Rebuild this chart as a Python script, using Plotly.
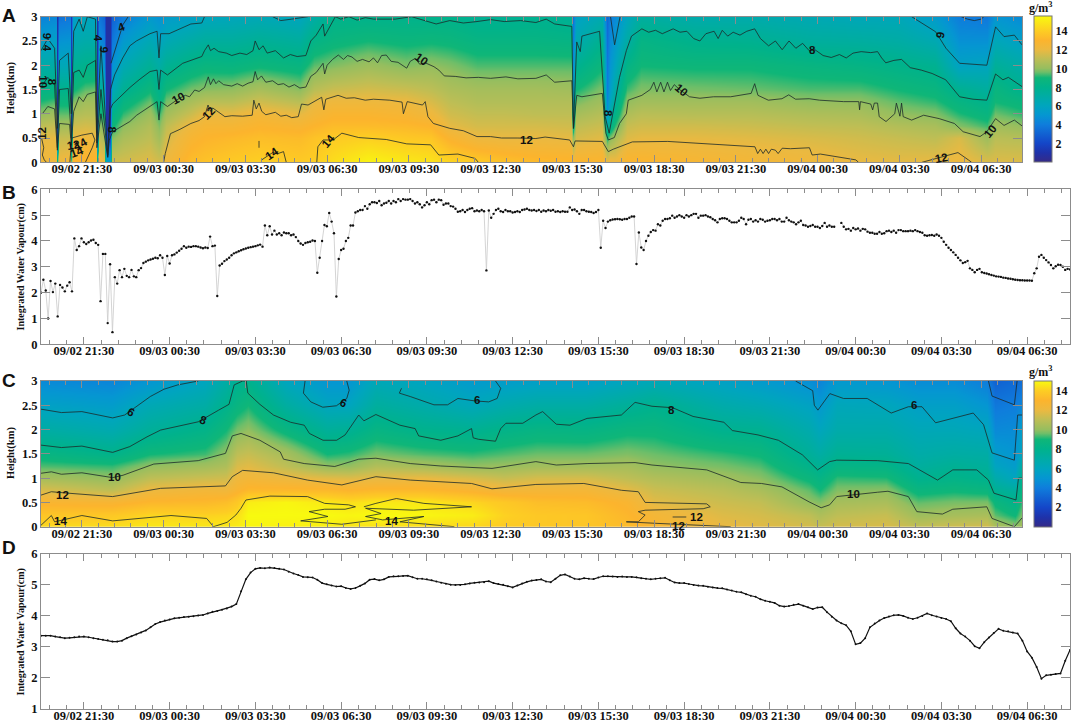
import plotly.graph_objects as go

W, H = 1072, 723
TICK_HOURS = [1.5, 4.5, 7.5, 10.5, 13.5, 16.5, 19.5, 22.5, 25.5, 28.5, 31.5, 34.5]
TICK_LABELS = ["09/02 21:30", "09/03 00:30", "09/03 03:30", "09/03 06:30", "09/03 09:30", "09/03 12:30",
               "09/03 15:30", "09/03 18:30", "09/03 21:30", "09/04 00:30", "09/04 03:30", "09/04 06:30"]

# ---------- Panel B: integrated water vapour, one value every 5 minutes
iwv_b = [
 2.0,2.5,2.08,1.0,2.45,2.02,2.35,1.08,2.3,2.2,2.05,2.27,
 2.4,2.05,4.1,3.65,3.8,4.1,3.95,3.88,3.95,4.02,4.05,3.92,
 3.85,1.67,3.5,3.5,.82,3.1,.47,2.6,2.35,2.87,2.6,2.92,
 2.65,2.6,2.88,2.63,2.6,2.87,2.95,3.15,3.2,3.25,3.28,3.31,
 3.35,3.33,3.45,3.35,2.68,3.42,3.13,3.45,3.48,3.55,3.62,3.7,
 3.8,3.74,3.78,3.77,3.8,3.8,3.78,3.75,3.72,3.75,3.73,4.17,
 3.8,3.82,1.87,3.05,3.12,3.22,3.28,3.35,3.45,3.52,3.56,3.6,
 3.64,3.68,3.71,3.74,3.76,3.78,3.8,3.83,3.86,3.78,4.6,4.22,
 4.57,4.25,4.4,4.25,4.3,4.22,4.33,4.3,4.3,4.22,4.25,4.15,
 4.0,3.9,3.85,3.92,3.95,3.97,4.02,4.0,2.77,3.35,4.0,4.62,
 4.57,5.08,4.75,4.3,1.85,3.3,3.65,3.7,4.0,4.12,4.6,4.6,
 5.1,5.15,5.2,5.2,5.35,5.25,5.42,5.5,5.5,5.47,5.55,5.38,
 5.45,5.48,5.55,5.45,5.55,5.5,5.62,5.55,5.62,5.6,5.6,5.62,
 5.55,5.45,5.5,5.42,5.3,5.38,5.5,5.42,5.58,5.6,5.5,5.6,
 5.58,5.4,5.45,5.45,5.35,5.33,5.25,5.13,5.15,5.2,5.12,5.2,
 5.25,5.27,5.15,5.18,5.15,5.2,5.15,2.86,5.18,4.9,5.05,5.2,
 5.25,5.15,5.12,5.2,5.15,5.15,5.1,5.12,5.15,5.12,5.2,5.22,
 5.25,5.2,5.18,5.2,5.16,5.2,5.13,5.18,5.15,5.2,5.17,5.2,
 5.13,5.15,5.12,5.15,5.13,5.13,5.3,5.2,5.22,5.15,5.05,5.2,
 5.2,5.15,5.13,5.12,5.08,5.12,5.2,3.74,4.78,4.5,4.75,4.8,
 4.83,4.84,4.85,4.84,4.82,4.85,4.85,4.9,4.95,4.95,3.11,4.33,
 3.75,3.65,4.0,4.2,4.35,4.42,4.4,4.65,4.6,4.78,4.85,4.85,
 4.88,4.98,4.9,4.95,5.0,4.95,4.9,5.0,4.95,5.0,5.05,5.05,
 4.9,4.98,4.98,5.0,4.95,4.92,4.85,4.8,4.72,4.85,4.88,4.88,
 4.85,4.78,4.72,4.72,4.72,4.78,4.9,4.85,4.65,4.82,4.85,4.75,
 4.8,4.75,4.85,4.82,4.75,4.78,4.8,4.85,4.85,4.8,4.85,4.75,
 4.75,4.9,4.8,4.75,4.72,4.65,4.72,4.78,4.62,4.6,4.55,4.58,
 4.62,4.55,4.55,4.5,4.58,4.7,4.55,4.6,4.55,4.55,None,None,
 4.7,4.55,4.45,4.47,4.4,4.5,4.45,4.48,4.4,4.47,4.45,4.36,
 4.32,4.32,4.28,4.28,4.35,4.28,4.3,4.38,4.4,4.35,4.4,4.32,
 4.42,4.42,4.38,4.38,4.38,4.4,4.38,4.42,4.38,4.35,4.32,4.22,
 4.2,4.22,4.23,4.2,4.25,4.2,4.12,3.97,3.85,3.74,3.65,3.56,
 3.46,3.35,3.25,3.15,3.18,3.23,2.94,2.88,2.79,2.88,2.92,2.79,
 2.76,2.74,2.71,2.68,2.66,2.63,2.62,2.61,2.58,2.57,2.55,2.54,
 2.52,2.5,2.49,2.48,2.48,2.47,2.47,2.47,2.46,2.75,2.94,3.39,
 3.46,3.35,3.26,3.17,3.07,2.94,3.02,3.08,3.07,3.0,2.88,2.92,
 2.9]

# ---------- Panel D: integrated water vapour, one value every 10 minutes
iwv_d = [
 3.36,3.36,3.36,3.33,3.31,3.28, 3.29,3.31,3.33,3.33,3.31,3.28, 3.25,3.23,3.21,3.17,3.17,3.2,
 3.28,3.34,3.4,3.46,3.53,3.63, 3.74,3.8,3.85,3.88,3.92,3.94, 3.96,3.97,3.99,4.01,4.03,4.08,
 4.13,4.16,4.2,4.24,4.3,4.38, 4.8,5.18,5.4,5.52,5.55,5.54, 5.56,5.55,5.52,5.5,5.43,5.37,
 5.32,5.26,5.25,5.24,5.17,5.06, 5.02,4.98,4.95,4.96,4.9,4.87, 4.9,4.97,5.05,5.17,5.19,5.15,
 5.18,5.26,5.28,5.28,5.29,5.3, 5.25,5.2,5.2,5.18,5.15,5.11, 5.07,5.04,5.01,5.0,5.0,5.02,
 5.05,5.07,5.08,5.09,5.12,5.06, 5.03,5.01,4.96,4.92,4.98,5.05, 5.1,5.14,5.16,5.18,5.11,5.09,
 5.2,5.31,5.34,5.27,5.2,5.18, 5.22,5.2,5.19,5.24,5.28,5.28, 5.27,5.26,5.27,5.26,5.26,5.25,
 5.22,5.2,5.18,5.2,5.22,5.23, 5.15,5.08,5.06,5.06,5.03,5.0, 4.98,4.97,4.94,4.92,4.9,4.89,
 4.85,4.82,4.78,4.76,4.7,4.65, 4.62,4.54,4.49,4.46,4.42,4.33, 4.3,4.32,4.36,4.38,4.33,4.28,
 4.22,4.27,4.28,4.12,3.97,3.85, 3.76,3.7,3.5,3.08,3.12,3.28, 3.63,3.75,3.85,3.93,3.98,4.02,
 4.03,4.0,3.94,3.9,3.94,4.0, 4.08,4.02,3.98,3.93,3.9,3.83, 3.6,3.43,3.33,3.2,3.02,2.95,
 3.15,3.3,3.45,3.58,3.52,3.5, 3.46,3.43,3.2,2.85,2.65,2.35, 1.97,2.08,2.1,2.12,2.14,2.55, 2.9]

# ---------- Panel A: humidity field (g/m3), columns at a_hours, rows at a_heights
a_heights = [0,.5,.75,1,1.25,1.5,2,2.5,3]
a_hours = [0,.5,.56,.6,.65,1.05,1.11,1.17,1.6,2.0,2.05,2.12,2.3,2.38,2.52,2.62,3,4,4.33,4.6,5.5,6,7,8,9.5,10,10.7,12,13.4,14.3,15,16,17,18.16,
           19.45,19.54,19.62,20.6,20.78,20.88,21.05,21.5,22,24,26,28.2,30,31.5,32.8,33.7,34.7,35,36]
a_columns = [
 [12.3,11.9,11,10,9.1,8.3,6.9,5.5,4.2],[12.3,11.9,11.2,10.3,9.4,8.4,7,5.7,4.4],[12.3,11.9,11.2,10.3,9.4,8.4,7,5.7,4.4],
 [9,3,1.5,1,1,1,1,1,1],[12.2,11.2,10.3,9.5,8.8,8,6.3,4.9,3.6],[12.4,11.2,10.4,9.5,8.8,8,6.3,5,3.8],
 [10,4,2,1.5,1.5,1.5,1.5,1.5,1.5],[13,12,11.3,10.6,9.8,8.9,7.6,6.5,5.5],[13.2,12.2,11.5,10.8,10.3,9.5,8,6.8,6],[13.2,12,11.4,10.8,10.3,9.6,8.1,6.8,5.8],
 [9,3,1.5,1,1,1,1,1,1],[12.5,11,10,9,8.5,7.8,6,4.7,3.8],[12,10.5,9.6,8.8,8,7,5,4,3.2],
 [6,2,1,.8,.8,.8,.8,.8,.8],[6,2,1,.8,.8,.8,.8,.8,.8],[11.5,9.8,8.8,8,7,6.2,4.8,3.8,3],
 [11.5,10.5,9.9,9.2,8.5,7.7,6.4,5.2,4],[11.8,11,10.7,10.2,9.6,8.9,7.6,6.4,5.2],[11.5,10.3,9.8,9.2,8.5,8,7,5.9,4.8],[12.2,11.5,11,10.3,9.7,9,7.7,6.4,5.4],
 [13.4,12.7,12.2,11.3,10.5,9.7,8.4,7,5.6],[13.6,13,12.6,12,10.9,9.9,8.7,7.3,6],[13.9,13.2,12.6,11.9,10.9,10,8.6,7.3,6.1],[14.1,13.4,12.9,12.4,11.4,10.5,8.9,7.6,6.3],
 [13.9,13.3,12.7,11.9,10.9,9.9,8.6,7.3,6],[14,13.6,13,12.4,11.9,10.9,9.5,8.3,7],[14.6,13.9,13.3,12.8,12.2,11.3,9.8,8.7,8],[15.4,14.1,13.3,12.8,12.2,11.5,10.2,9,8],
 [15,13.8,13.2,12.6,12.1,11.3,9.8,8.8,8],[14.8,13.7,13,12.2,11.6,11,10,8.9,8],[14.3,12.8,11.9,11.4,11,10.6,9.8,8.8,8],[14,12.1,11.5,11.1,10.7,10.4,9.4,8.5,7.7],
 [13.6,12,11.5,11.1,10.7,10.4,9.4,8.5,7.7],[13.3,12,11.5,11,10.7,10.4,9.4,8.5,7.8],
 [13.2,11.9,11.4,11,10.7,10.3,9.4,8.4,7.6],[12.5,10,8,7,6,5,4.5,4,3.6],[13,11.5,11,10.4,9.7,9,7.8,6.5,5.7],[13,11.8,11.3,10.8,10.3,9.8,8.9,7.9,6.5],
 [12,9,7,5,4.5,4,3.8,3.5,3.2],[12.4,9.8,8,7,6,5.5,5,4.5,4],[12.2,10.5,9.2,8.2,7.5,7,6,5.2,4.5],[13,11.7,11.2,10.6,10,9.3,8.3,7,6],
 [13,11.9,11.4,10.9,10.3,9.8,9,8.4,7.2],[12.7,11.9,11.4,10.8,10.3,9.7,8.9,7.9,6.7],[12.5,11.8,11.3,10.8,10.3,9.6,8.9,7.8,6.7],[12.3,11.6,11.1,10.6,10,9.4,8.6,7.3,6.4],
 [12,11.4,11,10.5,10,9.4,8.4,7.2,6.2],[11.9,11.2,10.7,10,9.5,9,8.1,7,6.2],[12,11,10.5,9.8,9.2,8.7,7.8,6.5,5.3],[12.2,11.6,9.8,9.1,8.5,7.8,5.8,4.8,4],
 [11.7,10.2,9.3,8.6,8,7.3,6,4.8,3.8],[11.7,10.9,10.3,9.6,9,8.7,7.5,6.2,5],[11.7,10.8,10,9.2,8.7,7.9,6.9,5.6,4.5]]

# ---------- Panel C: humidity field (g/m3)
c_heights = [0,.25,.5,.75,1,1.25,1.5,2,2.5,3]
c_hours = [0,2.6,4,6,6.8,7.2,7.6,9,10.5,11.3,12.3,14,15.8,17,18.2,20,21.5,22.5,25,26.4,28.2,28.6,29.2,31,32.2,33.5,34.7,35,35.75,36]
c_columns = [
 [14.3,13.7,12.8,11.6,10.4,9.4,8.6,7.1,5.7,4.5],[14.4,13.8,12.7,11,10,9.2,8.1,6.6,5.4,4.3],[14.6,14.2,13.1,12.1,11,10,9,7.5,6.4,5],
 [14.6,14.1,13.2,12.4,11.3,10.3,9.3,8.2,7,6],[14.6,14.2,13.4,12.3,11.4,10.6,10,9,8,7],[14.7,14.4,13.8,12.8,12.2,11.6,11,9.7,8.6,7.8],
 [14.9,15,14.7,13.2,12.4,11.8,11.2,10,9,8],[14.8,15,14.9,13.2,12.1,11,10.4,8.7,7.2,6],[14.7,15,14.6,13.2,11.8,10,9,7.5,6,5],
 [14.5,14.9,14.4,13,11.7,10,9.2,7.7,6,5],[14.4,15,14.6,13.2,11.9,10.7,9.7,8.5,7.3,6.3],[14.3,14.9,14.6,13.2,12,10.4,9.4,8,6.8,5.9],
 [14.2,14.7,14.2,12.8,11.6,10,9.2,7.8,6.2,5.3],[13.9,14.1,13.8,12.4,11.2,10.1,9.4,8.2,6.7,5.4],[13.8,13.8,13.4,12.5,11.5,10.3,9.6,8.5,7,5.6],
 [13.7,13.7,13.3,12.5,11.5,10.3,9.6,8.4,7,5.6],[13.3,13.1,12.8,11.9,11,10.4,9.8,8.8,7.5,6],[12.8,12.5,11.8,11.3,10.7,10,9.6,8.8,7.9,6.3],
 [12,11.7,11.3,10.9,10.3,9.7,9.2,7.9,6.8,5.7],[11.8,11.5,11.1,10.5,9.9,9.4,8.9,7.8,6.5,5.3],[11.5,11,10,9.5,8.8,8.1,7.5,6.7,5.8,4.7],
 [11.2,10.6,9.8,9,8.4,7.7,7.1,6.1,5.2,4.3],[11.5,11,10.4,9.8,9.2,8.4,7.7,6.8,6.2,5.2],[11.6,11.2,10.5,9.9,9.1,8.3,7.6,6.8,6.1,5],
 [11.1,10.2,9.5,8.7,7.9,7.3,6.9,6.3,5.6,4.6],[11.4,10.4,9.7,8.9,8.2,7.7,7.1,6.3,5.6,4.6],[11.5,10.5,9.7,8.7,7.9,7.4,7,6.1,5,4],
 [10.6,9.5,8.8,7.7,6.8,5.9,5.4,4.5,3.8,3],[10,8.9,8.1,7.3,6,5.4,5,4.6,4,3.3],[10.4,9.8,9.3,8.6,8,7.2,6,5.6,4.4,3.5]]

# ---------- Contour lines as (hour, km)
a_line_12 = [(4.5,0),(4.56,.18),(4.75,.59),(5.1,.68),(5.5,.8),(5.8,.86),(6,.94),(6.13,1.18),(6.22,1.05),(6.3,1.12),(6.5,1.04),(6.75,.94),(7,.96),(7.4,.95),(7.75,.97),(7.81,1.28),(7.9,1.1),(8,1.22),(8.1,1.05),(8.25,.98),(8.6,1.03),(8.8,.95),(9,.97),(9.2,.92),(9.44,.94),(9.56,1.2),(9.8,1.18),(10,1.25),(10.3,1.34),(10.38,1.08),(10.45,1.3),(10.9,1.38),(11.2,1.32),(11.5,1.33),(11.9,1.28),(12.2,1.3),(12.8,1.28),(13.25,1.24),(13.3,1),(13.44,1.25),(14,1.18),(14.1,1.25),(14.2,.94),(14.4,.8),(15,.7),(15.5,.65),(16,.53),(16.5,.53),(16.9,.5),(17.5,.5),(18.16,.49),(18.5,.52),(19.4,.46),(19.54,.32),(19.6,.44),(20.6,.43),(20.82,.22),(21,.27),(21.7,.42),(23,.43),(24.2,.39),(26.2,.32),(26.3,.18),(26.4,.27),(26.5,.18),(26.6,.27),(26.7,.18),(26.8,.27),(26.95,.25),(27.05,.18),(27.2,.29),(27.5,.28),(28.2,.3),(28.3,.15),(28.6,.17),(29.9,.05),(30,0)]
a_blob_12a = [(32.33,0),(32.83,.08),(33.65,.2),(34.03,.05),(34.15,0)]
a_blob_12b = [(1.06,0),(1.13,.5),(1.5,.56),(1.88,.6),(1.98,.46),(1.88,.3),(1.63,0)]
a_blob_12c = [(.02,.5),(.1,.3),(.05,.15),(.12,.05),(.2,.0)]
a_blob_14a = [(8.1,.05),(8.5,.2),(8.7,.18),(8.9,.22),(9,0)]
a_blob_14b = [(8,.44),(8,.3)]
a_blob_14c = [(10.12,0),(10.16,.32),(10.35,.46),(10.72,.46),(11.04,.6),(11.66,.51),(12.67,.47),(13.42,.38),(14.3,.36),(14.6,.15),(15.3,.17),(15.93,.08),(16.05,0)]
a_line_10 = [(.05,1),(.25,1.15),(.5,1.1),(.6,.25),(.68,.8),(1.05,.78),(1.11,.35),(1.2,1.05),(1.4,1.35),(1.55,1.25),(1.7,1.4),(2,1.45),(2.05,.3),(2.2,1),(2.45,.1),(2.5,.45),(2.63,.63),(3.26,.84),(3.51,.97),(4.01,1.15),(4.26,1.25),(4.33,.87),(4.39,1.25),(4.64,1.15),(5.08,1.32),(5.3,1.38),(5.45,1.35),(5.64,1.49),(5.8,1.46),(6,1.54),(6.14,1.76),(6.22,1.6),(6.33,1.72),(6.42,1.62),(6.52,1.68),(6.7,1.6),(7,1.57),(7.2,1.62),(7.4,1.57),(7.6,1.63),(7.78,1.66),(7.86,1.87),(7.95,1.7),(8.09,1.78),(8.25,1.65),(8.5,1.68),(8.7,1.6),(8.9,1.62),(9.1,1.55),(9.3,1.6),(9.5,1.53),(9.72,1.55),(9.9,1.77),(10.1,1.85),(10.35,2.04),(10.41,1.82),(10.5,2.0),(10.7,2.12),(10.91,2.21),(11.1,2.12),(11.25,2.2),(11.41,2.17),(11.6,2.08),(11.8,2.12),(12.04,2.07),(12.2,2.15),(12.35,2.05),(12.5,2.2),(12.67,2.21),(12.85,2.08),(13.1,2.06),(13.42,1.94),(13.55,2.08),(13.73,2.14),(13.9,2.02),(14.1,2.05),(14.42,1.97),(14.6,1.9),(14.8,1.78),(15.2,1.77),(15.6,1.74),(16.05,1.75),(16.5,1.73),(17.06,1.76),(17.5,1.72),(18.16,1.73),(18.54,1.8),(18.85,1.65),(19.48,1.68),(19.54,.7),(19.66,1.38),(19.85,1.35),(20.6,1.42),(20.73,.6),(20.82,.46),(21.04,.51),(21.23,.8),(21.48,1),(21.55,1.28),(22.05,1.38),(22.36,1.5),(22.49,1.65),(22.6,1.45),(22.74,1.65),(22.86,1.45),(22.99,1.65),(23.1,1.48),(23.24,1.6),(23.43,1.5),(23.8,1.35),(24.18,1.32),(24.68,1.35),(25.31,1.35),(26.06,1.42),(26.19,1.62),(26.31,1.38),(26.69,1.28),(27.19,1.31),(27.44,1.39),(27.69,1.3),(28.19,1.31),(28.57,1.28),(29.45,1.25),(30.01,1.25),(30.04,1.08),(30.07,1.25),(30.45,1.2),(30.52,1.08),(30.58,1.22),(30.7,1.22),(30.76,.94),(31.01,.84),(31.33,1),(31.39,1.22),(31.52,.95),(31.58,1.22),(31.64,.94),(31.95,.87),(32.39,.97),(32.96,.9),(33.52,.8),(33.84,.63),(34.46,.53),(34.71,.63),(35.03,.9),(35.34,.76),(35.72,.87),(36,.75)]
a_line_8 = [(0,1.55),(.25,1.75),(.5,1.6),(.6,.3),(.68,1.5),(1,1.52),(1.11,.5),(1.2,1.85),(1.4,1.9),(1.55,1.75),(1.7,2),(2,2.1),(2.05,.4),(2.2,1.5),(2.45,.12),(2.55,1.1),(2.63,1.2),(2.9,1.35),(3.26,1.54),(3.6,1.7),(4,1.87),(4.26,1.9),(4.33,1.5),(4.39,1.9),(4.64,1.8),(5.2,2.04),(5.5,2.1),(5.9,2.18),(6,2.3),(6.14,2.42),(6.22,2.3),(6.35,2.35),(6.52,2.28),(6.8,2.25),(7,2.2),(7.3,2.25),(7.55,2.22),(7.78,2.3),(7.86,2.5),(8,2.32),(8.15,2.4),(8.3,2.25),(8.6,2.3),(8.9,2.15),(9.15,2.22),(9.4,2.18),(9.72,2.2),(9.9,2.5),(10.1,2.62),(10.35,2.85),(10.41,2.6),(10.8,3),(11,2.95),(11.3,3),(11.6,2.93),(11.9,2.98),(12.2,2.95),(13,2.95),(13.6,3),(14.3,2.88),(14.5,2.85),(15,2.92),(15.5,2.87),(16,2.9),(16.5,2.94),(17,2.9),(17.6,2.92),(18.16,2.88),(18.54,2.95),(18.85,2.85),(19.48,2.8),(19.54,.7),(19.66,2.48),(19.79,2.28),(19.85,2.6),(20.5,2.7),(20.7,.95),(20.85,.6),(21.05,1.2),(21.23,1.75),(21.48,2.3),(21.67,2.6),(22.05,2.75),(22.3,2.68),(22.55,2.72),(22.8,2.65),(23.2,2.75),(23.45,2.68),(23.7,2.7),(23.95,2.55),(24.18,2.5),(24.4,2.65),(24.7,2.7),(24.85,2.55),(25,2.72),(25.2,2.6),(25.4,2.68),(25.65,2.62),(25.9,2.7),(26.19,2.75),(26.4,2.55),(26.7,2.4),(26.95,2.5),(27.2,2.32),(27.45,2.5),(27.7,2.35),(27.95,2.45),(28.19,2.3),(28.4,2.32),(28.7,2.2),(29,2.16),(29.3,2.22),(29.55,2.15),(29.8,2.25),(30.1,2.28),(30.45,2.26),(30.7,2.28),(30.85,2.15),(31,2.05),(31.3,2.1),(31.58,2.12),(31.9,1.95),(32.3,1.9),(32.7,1.83),(33.2,1.7),(33.71,1.35),(34.2,1.3),(34.71,1.28),(35.03,1.82),(35.3,1.7),(35.5,1.75),(35.75,1.65),(36,1.56)]
a_line_6a = [(0,2.3),(.25,2.55),(.5,2.35),(.6,.7),(.68,2.1),(1,2.25),(1.11,1),(1.2,2.7),(1.4,2.95),(1.55,2.7),(1.7,3),(2,2.95),(2.05,.6),(2.2,2.4),(2.45,.15),(2.55,1.5),(2.7,1.8),(3,2.15),(3.26,2.4),(3.5,2.5),(4,2.65),(4.26,2.7),(4.33,2.15),(4.39,2.65),(4.7,2.65),(5.5,2.85),(5.9,2.87),(6,3)]
a_line_6b = [(8.5,3),(8.8,2.92),(9.2,2.95),(9.8,3)]
a_line_6c = [(31.95,3),(32.83,2.69),(33.21,2.35),(33.71,2.04),(34.71,2),(35.03,2.79),(35.34,2.59),(35.72,2.62),(36,2.42)]
a_line_6d = [(20.9,3),(21.05,2.42),(21.25,3)]
a_line_4a = [(2.57,2.04),(2.82,2.52),(3,2.83),(3.2,3)]
a_line_4b = [(33.77,3),(34,2.95),(34.25,2.92),(34.5,2.95),(34.6,3)]
c_line_6a = [(0,2.42),(.75,2.35),(1.5,2.37),(2.63,2.24),(3.07,2.3),(3.5,2.47),(4.01,2.68),(4.51,2.83),(5.02,2.92),(5.77,3)]
c_line_6b = [(9.69,3),(9.63,2.75),(9.9,2.57),(10.34,2.46),(10.84,2.49),(11.22,2.64),(11.31,2.81),(11.22,3)]
c_line_6c = [(13.23,2.85),(13.15,2.75),(13.55,2.68),(14.42,2.51),(14.92,2.51),(15.3,2.64),(15.92,2.59),(16.43,2.57),(16.74,2.64),(16.87,2.85),(16.68,3)]
c_line_6d = [(27.69,3),(28.32,2.8),(28.38,2.5),(28.51,2.4),(28.95,2.74),(29.45,2.64),(30.32,2.64),(31.2,2.34),(31.83,2.47),(32.33,2.47),(32.83,2.14),(34.21,2.34),(34.59,2.1),(34.9,1.52),(35.72,1.37),(35.84,2.3),(36,2.3)]
c_line_4 = [(34.77,3),(34.9,2.69),(35.72,2.51),(35.82,3)]
c_line_8a = [(0,1.68),(.75,1.63),(1.5,1.66),(2.63,1.53),(3.26,1.65),(3.89,1.85),(4.39,1.99),(5.77,2.16),(6.52,2.4),(6.9,2.52),(7.09,2.92),(7.4,3),(7.53,3),(7.59,2.75),(8.03,2.52),(8.53,2.3),(9.16,2.15),(9.66,2.09),(9.85,1.92),(10.35,1.78),(10.85,1.78),(11.16,1.89),(11.66,2.3),(11.85,2.18),(12.29,2.31),(13.17,2.09),(13.73,2.02),(13.86,1.87),(14.67,1.78),(15.3,1.87),(15.8,2.02),(15.86,1.83),(16.05,1.8),(16.68,1.76),(16.87,2.02),(17.06,2.13),(17.68,2.13),(18.16,2.3),(18.41,2.37),(18.91,2.11),(19.41,2.09),(20.04,2.23),(21.3,2.3),(21.8,2.56),(22.42,2.48),(23.18,2.45),(23.93,2.27),(25.06,2.15),(25.37,1.98),(26.31,1.89),(27.06,1.78),(27.94,1.48),(28.5,1.17),(28.94,1.34),(29.2,1.37),(30.7,1.36),(31.83,1.3),(32.9,.96),(33.46,1.17),(34.34,1.17),(34.77,.96),(34.97,.69),(35.78,.55),(35.87,1),(36,1)]
c_line_10 = [(0,1.1),(.38,1.13),(.75,1.08),(1.5,1.11),(2.63,1.01),(3.01,1.06),(4.14,1.29),(5.77,1.36),(6.77,1.51),(7.02,1.87),(7.34,1.92),(8.03,1.78),(8.78,1.54),(8.9,1.39),(9.66,1.3),(10.78,1.24),(11.66,1.39),(12.29,1.41),(13.55,1.3),(14.67,1.25),(16.55,1.2),(18.16,1.34),(18.91,1.27),(20.04,1.3),(21.8,1.32),(22.42,1.27),(24.43,1.17),(25.68,.91),(26.44,.89),(27.19,.82),(28.19,.51),(28.63,.39),(28.94,.45),(29.2,.62),(30.7,.71),(31.08,.73),(31.83,.62),(32.14,.31),(33.08,.26),(33.46,.36),(34.71,.41),(34.9,.17),(35.72,0),(36,.18)]
c_line_12 = [(0,.65),(.38,.72),(1,.69),(2.63,.62),(4.39,.79),(6.77,.84),(7.02,1.03),(7.4,1.16),(8.53,1.11),(9.78,.96),(11.04,.86),(12.29,1.03),(13.55,.96),(15.8,.89),(16.55,.78),(18.16,.87),(19.92,.89),(21.3,.75),(21.92,.72),(22.17,.5),(24.43,.47),(24.56,.41),(24.3,.37),(22.17,.34),(21.92,.31),(22.17,.24),(21.92,.1),(21.48,.1),(22.55,.07),(25.31,0)]
c_dash_12 = [(23.18,.2),(23.68,.2)]
c_line_14a = [(0,.03),(.38,.23),(.5,.1),(1.5,.23),(2.63,.12),(4.77,.23),(6.08,.17),(6.33,0),(6.83,.09),(7.15,.24),(7.34,.38),(7.52,.55),(8.4,.63),(9.78,.62),(10.41,.48),(11.29,.45),(11.54,.41),(11.16,.36),(10.41,.36),(9.84,.31),(10.53,.21),(9.53,.12),(11.04,.05),(12.29,.14)]
c_line_14b = [(11.85,.41),(12.29,.48),(13.04,.58),(14.05,.48),(15.8,.41),(13.67,.34),(11.91,.38),(12.48,.27),(11.91,.21),(12.54,.14),(14.05,.21),(13.17,.1),(15.17,0)]

a_lines = [a_line_12, a_blob_12a, a_blob_12b, a_blob_12c, a_blob_14a, a_blob_14b, a_blob_14c, a_line_10, a_line_8, a_line_6a, a_line_6b, a_line_6c, a_line_6d, a_line_4a, a_line_4b]
c_lines = [c_line_6a, c_line_6b, c_line_6c, c_line_6d, c_line_4, c_line_8a, c_line_10, c_line_12, c_dash_12, c_line_14a, c_line_14b]

# contour labels: text, hour, km, angle
a_labels = [("9",.2,2.6,90),("4",.2,2.35,90),("10",.07,1.65,90),("8",.38,1.65,90),("12",.06,.6,-90),("12",1.2,.35,-10),("14",1.45,.38,-30),("14",1.3,.22,-20),
 ("4",2.12,2.55,90),("9",2.3,2.33,90),("4",2.95,2.78,-20),("8",2.6,.66,90),("10",5.05,1.32,-28),("12",6.15,1.02,-45),("14",8.45,.18,-35),("14",10.55,.43,-50),("10",13.95,2.12,35),("12",17.8,.46,0),
 ("10",23.5,1.49,40),("8",28.3,2.31,0),("8",20.8,1.0,90),("6",33,2.62,100),("10",34.85,.64,-50),("12",33.05,.09,-10)]
c_labels = [("6",3.3,2.37,30),("8",5.95,2.2,20),("10",2.7,1.03,0),("12",.8,.65,0),("14",.7,.12,0),("6",11.1,2.54,20),("6",16,2.6,0),("14",12.85,.11,0),
 ("8",23.12,2.4,0),("6",32.05,2.5,0),("10",29.8,.67,0),("12",24.05,.19,0),("12",23.4,.01,0)]

# ---------- Colour stops: value, colour
cb_values = [0,1,2,4,5,6,7,8,9,9.6,10,11,12,13,14,15.6]
cb_colors = ["#352a87","#1e32aa","#1446c8","#0f7ddc","#0596d2","#00a5be","#00aca5","#00b28c","#0fb678","#6ebe69","#96be5f","#bebe55","#ebb941","#fcb42d","#fdcd23","#f8fa0f"]

FONT = "Liberation Serif"
LINE = "#8c8c8c"

def dom(a, b, size):
    return [a / size, b / size]

def rescale(top):
    return [[min(v / top, 1.0), c] for v, c in zip(cb_values, cb_colors) if v <= top] + ([[1.0, cb_colors[-1]]] if top < 15.6 else [])

fig = go.Figure()
panels = [
 dict(n="", x=(41, 1022), y=(16.7, 162.3), yr=[0, 3]),
 dict(n="2", x=(41, 1070), y=(189.3, 344.3), yr=[0, 6]),
 dict(n="3", x=(41, 1022), y=(381, 526.7), yr=[0, 3]),
 dict(n="4", x=(41, 1070), y=(554, 708.7), yr=[1, 6]),
]
layout = dict(width=W, height=H, margin=dict(l=0, r=0, t=0, b=0, autoexpand=False), paper_bgcolor="white", plot_bgcolor="white",
              showlegend=False, font=dict(family=FONT, size=12, color="#111"))
tickfont = dict(family=FONT, size=12.5, color="#111", weight="bold")
for p in panels:
    n = p["n"]
    layout["xaxis" + n] = dict(domain=dom(*p["x"], W), range=[0, 36], anchor="y" + n, showgrid=False, zeroline=False,
        tickmode="array", tickvals=TICK_HOURS, ticktext=TICK_LABELS, ticks="inside", ticklen=7, tickcolor=LINE, tickwidth=1,
        minor=dict(tickmode="linear", tick0=.3, dtick=.6, ticks="inside", ticklen=4, tickcolor=LINE, tickwidth=1, showgrid=False),
        showline=True, linecolor=LINE, linewidth=1, mirror="ticks", tickfont=tickfont, ticklabelstandoff=-5)
    yvals = [p["yr"][0] + i * (.5 if p["yr"][1] == 3 else 1) for i in range(7 if p["yr"] == [0, 3] or p["yr"] == [0, 6] else 6)]
    layout["yaxis" + n] = dict(domain=[1 - p["y"][1] / H, 1 - p["y"][0] / H], range=p["yr"], anchor="x" + n, showgrid=False, zeroline=False,
        tickmode="array", tickvals=yvals, ticktext=[f"{v:g}" for v in yvals], ticks="inside", ticklen=9, tickcolor=LINE, tickwidth=1,
        showline=True, linecolor=LINE, linewidth=1, mirror="ticks", tickfont=tickfont)

def add_field(hours, heights, columns, xa, ya, top, y0, y1):
    rows = [[col[i] for col in columns] for i in range(len(heights))]
    fig.add_trace(go.Heatmap(x=hours, y=heights, z=rows, xaxis=xa, yaxis=ya, zmin=0, zmax=top, zsmooth="best",
        colorscale=rescale(top), hoverinfo="skip",
        colorbar=dict(x=1034 / W, xanchor="left", xpad=0, ypad=0, y=1 - y1 / H, yanchor="bottom", len=(y1 - y0) / H, lenmode="fraction",
                      thickness=17.5, thicknessmode="pixels", outlinecolor="#777", outlinewidth=1, tickmode="array",
                      tickvals=[2, 4, 6, 8, 10, 12, 14], ticktext=["2", "4", "6", "8", "10", "12", "14"], ticks="",
                      tickfont=dict(family=FONT, size=12, color="#111", weight="bold"))))

def add_lines(lines, xa, ya):
    for line in lines:
        fig.add_trace(go.Scatter(x=[q[0] for q in line], y=[q[1] for q in line], xaxis=xa, yaxis=ya, mode="lines",
            line=dict(color="#1c2a2a", width=.8), hoverinfo="skip"))

add_field(a_hours, a_heights, a_columns, "x", "y", 15.6, 16.7, 162.3)
add_lines(a_lines, "x", "y")
add_field(c_hours, c_heights, c_columns, "x3", "y3", 15, 381, 526.7)
add_lines(c_lines, "x3", "y3")

hours_b = [i / 12 for i in range(len(iwv_b))]
hours_d = [i / 6 for i in range(len(iwv_d))]
fig.add_trace(go.Scatter(x=hours_b, y=iwv_b, xaxis="x2", yaxis="y2", mode="lines+markers", connectgaps=False,
    line=dict(color="#cfcfcf", width=.9), marker=dict(color="#111", size=2.4)))
fig.add_trace(go.Scatter(x=hours_d, y=iwv_d, xaxis="x4", yaxis="y4", mode="lines+markers",
    line=dict(color="#111", width=1.2), marker=dict(color="#111", size=2)))

ann = []
def note(text, px, py, size, family=FONT, angle=0, weight="bold"):
    ann.append(dict(text=text, x=px / W, y=1 - py / H, xref="paper", yref="paper", showarrow=False, textangle=angle,
                    xanchor="center", yanchor="middle", font=dict(family=family, size=size, color="#111", weight=weight)))

for letter, py in zip(["A", "B", "C", "D"], [15, 193, 380, 547]):
    note(letter, 9, py, 19, family="Liberation Sans")
note("Height(km)", 11, 88, 10.5, angle=-90)
note("Height(km)", 11, 453, 10.5, angle=-90)
note("Integrated Water Vapour(cm)", 20.5, 267, 10, angle=-90)
note("Integrated Water Vapour(cm)", 20.5, 632, 10, angle=-90)
note("g/m<sup>3</sup>", 1041, 8, 12)
note("g/m<sup>3</sup>", 1041, 372, 12)

for labels, xr, yr in [(a_labels, "x", "y"), (c_labels, "x3", "y3")]:
    for text, h, km, angle in labels:
        ann.append(dict(text=text, x=h, y=km, xref=xr, yref=yr, showarrow=False, textangle=angle,
                        font=dict(family="Liberation Sans", size=11.5, color="#111", weight="bold")))
layout["annotations"] = ann
fig.update_layout(**layout)
fig.write_html("out.html", config={"displayModeBar": False}, post_script="document.body.style.margin='0';")
